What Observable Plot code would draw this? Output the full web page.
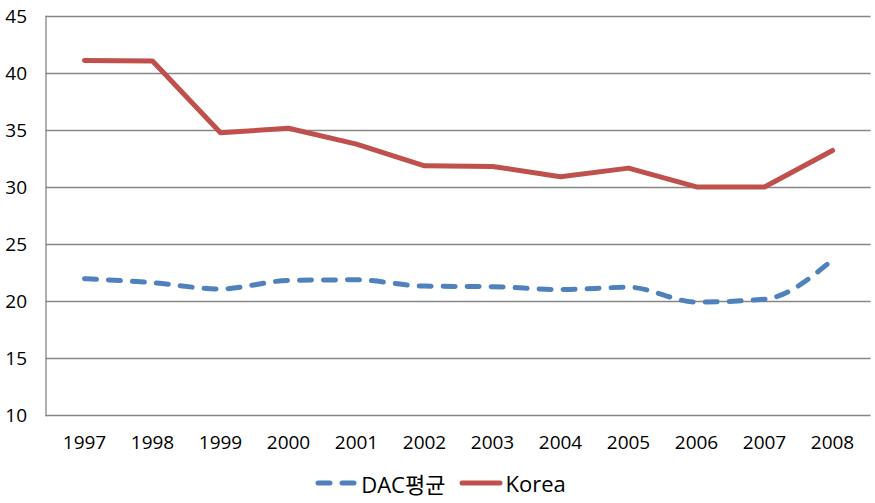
<!DOCTYPE html>
<html>
<head>
<meta charset="utf-8">
<script src="https://cdn.jsdelivr.net/npm/d3@7"></script>
<script src="https://cdn.jsdelivr.net/npm/@observablehq/plot@0.6"></script>
<style>
  html, body { margin: 0; padding: 0; background: #fff; }
  body { width: 875px; height: 503px; overflow: hidden; font-family: "Open Sans", "Noto Sans CJK KR", sans-serif; }
  #legend { height: 43px; display: flex; justify-content: center; align-items: center; gap: 14px; font-size: 22px; color: #000; padding-left: 6px; box-sizing: border-box; padding-top: 3px; }
  .item { display: flex; align-items: center; gap: 2px; }
</style>
</head>
<body>
<div id="chart"></div>
<div id="legend"></div>
<script>
const years = ["1997","1998","1999","2000","2001","2002","2003","2004","2005","2006","2007","2008"];
const dacValues = [22.0, 21.65, 21.1, 21.85, 21.9, 21.35, 21.3, 21.05, 21.25, 19.95, 20.2, 23.65];
const koreaValues = [41.15, 41.1, 34.8, 35.2, 33.8, 31.9, 31.85, 30.95, 31.7, 30.05, 30.05, 33.25];
const yTicks = [10, 15, 20, 25, 30, 35, 40, 45];
const seriesNames = ["DAC평균", "Korea"];
const colors = ["#4F81BD", "#C0504D"];

const dac = years.map((y, i) => ({year: y, value: dacValues[i]}));
const korea = years.map((y, i) => ({year: y, value: koreaValues[i]}));

const chart = Plot.plot({
  width: 875,
  height: 460,
  marginLeft: 45.5,
  marginRight: 4.5,
  marginTop: 16,
  marginBottom: 45,
  style: {fontFamily: '"Open Sans", "Noto Sans CJK KR", sans-serif', fontSize: "19px", color: "#000", background: "#fff"},
  x: {type: "point", domain: years, padding: 0.5, label: null, tickSize: 0, tickPadding: 20},
  y: {domain: [10, 45], ticks: yTicks, label: null, tickSize: 0, tickPadding: 19},
  marks: [
    Plot.ruleY(yTicks, {stroke: "#868686", strokeWidth: 1.3}),
    Plot.frame({anchor: "left", stroke: "#868686", strokeWidth: 1.3}),
    Plot.line(dac, {x: "year", y: "value", stroke: colors[0], strokeWidth: 5, strokeDasharray: "12,12", strokeLinecap: "round", curve: "monotone-x"}),
    Plot.line(korea, {x: "year", y: "value", stroke: colors[1], strokeWidth: 5, strokeLinecap: "round", strokeLinejoin: "round"})
  ]
});
document.getElementById("chart").appendChild(chart);

const legend = document.getElementById("legend");
seriesNames.forEach((name, i) => {
  const item = document.createElement("div");
  item.className = "item";
  const dash = i === 0 ? 'stroke-dasharray="12,12"' : "";
  item.innerHTML = `<svg width="44" height="10"><line x1="3" x2="41" y1="5" y2="5" stroke="${colors[i]}" stroke-width="5" stroke-linecap="round" ${dash}/></svg><span>${name}</span>`;
  legend.appendChild(item);
});
</script>
</body>
</html>
